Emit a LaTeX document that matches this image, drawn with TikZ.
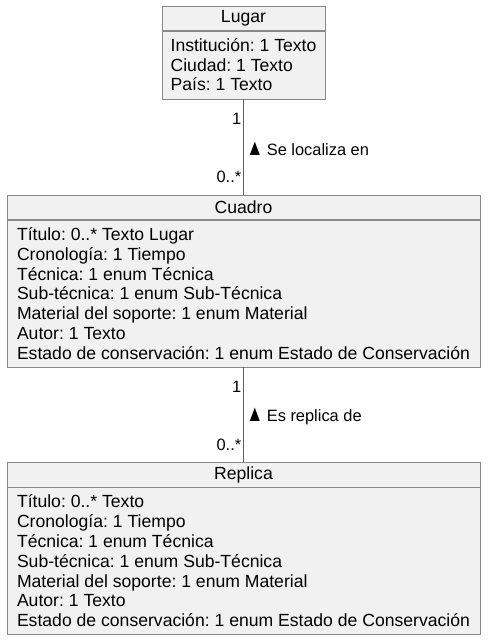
\documentclass[tikz,border=0pt]{standalone}
\usepackage{fontspec}
\usepackage{graphicx}
\setmainfont{Liberation Sans}
\usetikzlibrary{positioning}
\definecolor{boxfill}{RGB}{241,241,241}
\definecolor{boxline}{RGB}{136,136,136}
\definecolor{linkline}{RGB}{95,95,95}
\newcommand{\readup}{\scalebox{1.05}[1.4]{▲}\hspace{3.5pt}}
\tikzset{classhead/.style={draw=boxline, fill=boxfill, minimum height=24.5pt, inner sep=0pt, anchor=north}}
\tikzset{classbody/.style={draw=boxline, fill=boxfill, align=left, inner xsep=0pt, inner ysep=0pt, anchor=north}}
\tikzset{assoc/.style={draw=linkline, line width=1.6pt}}
\tikzset{mult/.style={left, inner sep=0pt, xshift=-1.5pt, font=\fontsize{16.4}{19}\selectfont}}
\tikzset{rolename/.style={right, inner sep=0pt, xshift=2pt, font=\fontsize{16.4}{19}\selectfont}}

\begin{document}
\begin{tikzpicture}[x=1pt, y=1pt, font=\fontsize{17.6}{19.8}\selectfont\frenchspacing, node distance=0pt]
\useasboundingbox (0,0) rectangle (489,640);
% classes
\node[classhead, minimum width=163pt] (lugarhead) at (243.5,634.3) {Lugar};
\node[classbody, below=of lugarhead, minimum width=163pt, minimum height=68pt] (lugarbody) {Institución: 1 Texto\\Ciudad: 1 Texto\\País: 1 Texto};

\node[classhead, below=96pt of lugarbody, minimum width=473.5pt] (cuadrohead) {Cuadro};
\node[classbody, below=of cuadrohead, minimum width=473.5pt, minimum height=147pt] (cuadrobody) {Título: 0..* Texto Lugar\\Cronología: 1 Tiempo\\Técnica: 1 enum Técnica\\Sub-técnica: 1 enum Sub-Técnica\\Material del soporte: 1 enum Material\\Autor: 1 Texto\\Estado de conservación: 1 enum Estado de Conservación};

\node[classhead, below=95pt of cuadrobody, minimum width=473.5pt] (replicahead) {Replica};
\node[classbody, below=of replicahead, minimum width=473.5pt, minimum height=147pt] (replicabody) {Título: 0..* Texto\\Cronología: 1 Tiempo\\Técnica: 1 enum Técnica\\Sub-técnica: 1 enum Sub-Técnica\\Material del soporte: 1 enum Material\\Autor: 1 Texto\\Estado de conservación: 1 enum Estado de Conservación};

% associations
\draw[assoc] (lugarbody) -- (cuadrohead) node[pos=0.52, rolename] {\readup Se localiza en} node[pos=0.21, mult] {1} node[pos=0.815, mult] {0..*};
\draw[assoc] (cuadrobody) -- (replicahead) node[pos=0.52, rolename] {\readup Es replica de} node[pos=0.21, mult] {1} node[pos=0.815, mult] {0..*};
\end{tikzpicture}
\end{document}
